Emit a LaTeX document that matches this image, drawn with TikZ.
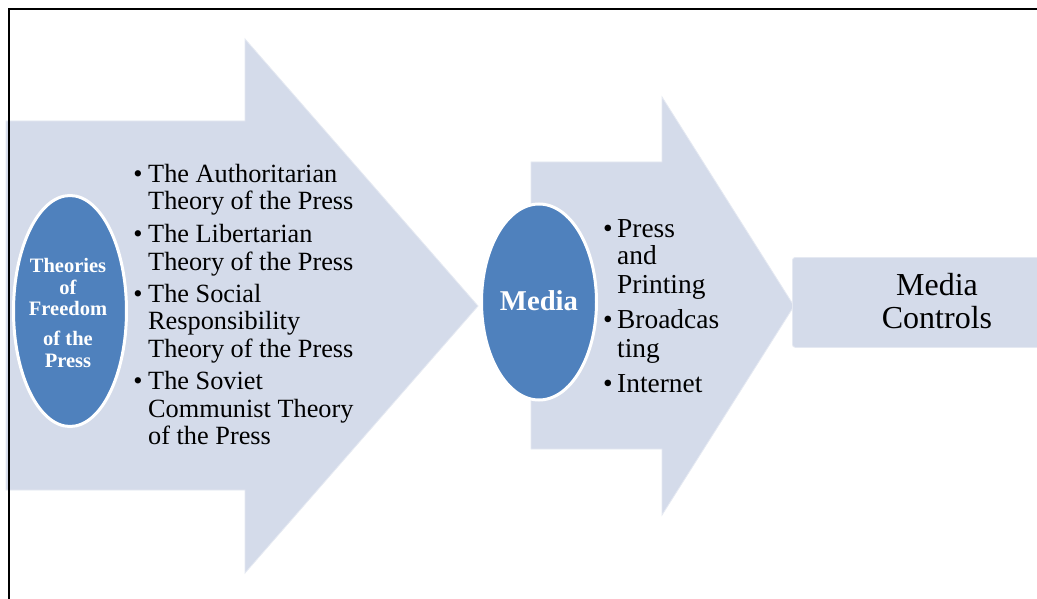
\documentclass[tikz,border=0pt]{standalone}
\usepackage{fontspec}
\setmainfont{Liberation Serif}
\usetikzlibrary{shapes.geometric}
\definecolor{arrowfill}{RGB}{212,219,234}
\definecolor{ovalblue}{RGB}{79,129,189}
\begin{document}
\begin{tikzpicture}[x=1pt,y=-1pt,
  arrowshape/.style={fill=arrowfill, draw=arrowfill!60!white, line width=0.8pt},
  oval/.style={ellipse, fill=ovalblue, draw=white, line width=3pt, inner sep=0},
  ovaltext/.style={font=\fontsize{20.5}{22}\selectfont\bfseries, text=white, anchor=base, inner sep=0},
  itemA/.style={font=\fontsize{26.3}{27.5}\selectfont, anchor=base west, inner sep=0},
  itemB/.style={font=\fontsize{27.4}{28}\selectfont, anchor=base west, inner sep=0},
  bulletA/.style={font=\fontsize{26.3}{27.5}\selectfont, anchor=base, inner sep=0},
  bulletB/.style={font=\fontsize{27.4}{28}\selectfont, anchor=base, inner sep=0},
  boxtext/.style={font=\fontsize{32}{33}\selectfont, anchor=base, inner sep=0}]
\useasboundingbox (0,0) rectangle (1037,599);
\fill[white] (0,0) rectangle (1037,599);

% arrows
\filldraw[arrowshape] (6,121) -- (245,121) -- (245,39) -- (478,306) -- (245,573) -- (245,490) -- (6,490) -- cycle;
\filldraw[arrowshape] (531,162) -- (662,162) -- (662,97) -- (794,306) -- (662,515) -- (662,449) -- (531,449) -- cycle;
\node[fill=arrowfill, draw=arrowfill!60!white, line width=0.8pt, rounded corners=3pt, minimum width=250pt, minimum height=90pt, anchor=north west, inner sep=0] (controls) at (792,257) {};

% ovals
\node[oval, minimum width=113pt, minimum height=231pt] (theories) at (70,311) {};
\node[oval, minimum width=115pt, minimum height=196pt] (media) at (539,302) {};

% oval texts
\foreach \t/\y [count=\i] in {Theories/272, of/294, Freedom/315, of the/345, Press/367}
  \node[ovaltext] (th\i) at (68,\y) {\t};
\node[font=\fontsize{28.7}{30}\selectfont\bfseries, text=white, anchor=base, inner sep=0] (mediatext) at (539,310) {Media};

% list 1
\foreach \y [count=\i] in {183,242,302,389}
  \node[bulletA] (ba\i) at (138,\y) {•};
\foreach \t/\y [count=\i] in {The Authoritarian/183, Theory of the Press/210, The Libertarian/242, Theory of the Press/270, The Social/302, Responsibility/329, Theory of the Press/357, The Soviet/389, Communist Theory/417, of the Press/444}
  \node[itemA] (la\i) at (148,\y) {\t};

% list 2
\foreach \y [count=\i] in {237,328,392}
  \node[bulletB] (bb\i) at (608,\y) {•};
\foreach \t/\y [count=\i] in {Press/237, and/265, Printing/293, Broadcas/328, ting/357, Internet/392}
  \node[itemB] (lb\i) at (617,\y) {\t};

% box text
\node[boxtext] (mc1) at (937,295) {Media};
\node[boxtext] (mc2) at (937,328) {Controls};

% frame
\draw[line width=2pt] (8.5,599) -- (8.5,9.5) -- (1037,9.5);
\end{tikzpicture}
\end{document}
